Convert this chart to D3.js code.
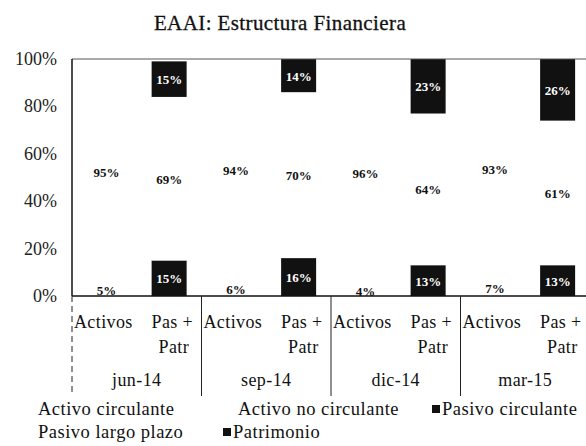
<!DOCTYPE html>
<html><head><meta charset="utf-8">
<script src="https://cdn.jsdelivr.net/npm/d3@7"></script>
<style>
body{margin:0;background:#fff;}
svg{display:block;}
text{font-family:"Liberation Serif","DejaVu Serif",serif;}
</style></head>
<body><svg id="c" width="586" height="446"></svg>
<script>
const periods = ["jun-14","sep-14","dic-14","mar-15"];
const subCats = ["Activos","Pas + Patr"];
const activoCirculante   = [5, 6, 4, 7];
const activoNoCirculante = [95, 94, 96, 93];
const pasivoCirculante   = [15, 16, 13, 13];
const pasivoLargoPlazo   = [69, 70, 64, 61];
const patrimonio         = [15, 14, 23, 26];
const yTicks = [0, 20, 40, 60, 80, 100];

const svg = d3.select("#c");
const L = 72, R = 590, T = 59, B = 296;
const x0 = d3.scaleBand().domain(periods).range([L, R]).padding(0);
const x1 = d3.scaleBand().domain(subCats).range([0, x0.bandwidth()]).paddingInner(0.45).paddingOuter(0.225);
const y = d3.scaleLinear().domain([0, 100]).range([B, T]);

svg.append("text").attr("x", 280).attr("y", 30).attr("text-anchor","middle")
  .attr("font-size", 21).attr("letter-spacing", 0.4).attr("fill","#111").attr("stroke","#111").attr("stroke-width",0.3)
  .text("EAAI: Estructura Financiera");

const series = [];
periods.forEach((p,i)=>{
  series.push({p, sub:"Activos", y0:0, y1:activoCirculante[i], v:activoCirculante[i], dark:false});
  series.push({p, sub:"Activos", y0:activoCirculante[i], y1:activoCirculante[i]+activoNoCirculante[i], v:activoNoCirculante[i], dark:false});
  const a = pasivoCirculante[i], b = a + pasivoLargoPlazo[i];
  series.push({p, sub:"Pas + Patr", y0:0, y1:a, v:pasivoCirculante[i], dark:true});
  series.push({p, sub:"Pas + Patr", y0:a, y1:b, v:pasivoLargoPlazo[i], dark:false});
  series.push({p, sub:"Pas + Patr", y0:b, y1:Math.min(100, b+patrimonio[i]), v:patrimonio[i], dark:true});
});
const bw = 35;
svg.append("g").selectAll("rect").data(series).join("rect")
  .attr("x", d => x0(d.p) + x1(d.sub) + x1.bandwidth()/2 - bw/2)
  .attr("width", bw)
  .attr("y", d => y(d.y1)).attr("height", d => y(d.y0) - y(d.y1))
  .attr("fill", d => d.dark ? "#111" : "#fff");

svg.append("line").attr("x1", L).attr("x2", R).attr("y1", T).attr("y2", T).attr("stroke","#555").attr("stroke-width",1);
svg.append("line").attr("x1", L).attr("x2", L).attr("y1", T).attr("y2", B).attr("stroke","#111").attr("stroke-width",1.5);
svg.append("line").attr("x1", L).attr("x2", R).attr("y1", B).attr("y2", B).attr("stroke","#111").attr("stroke-width",1.5);

svg.append("g").selectAll("text").data(yTicks).join("text")
  .attr("x", 57).attr("y", d => y(d) + 6).attr("text-anchor","end")
  .attr("font-size", 18).attr("fill","#222").text(d => d + "%");

svg.append("g").selectAll("text").data(series).join("text")
  .attr("x", d => x0(d.p) + x1(d.sub) + x1.bandwidth()/2 + (d.sub === "Activos" ? 2 : 0))
  .attr("y", d => y((d.y0 + d.y1)/2) + 5)
  .attr("text-anchor","middle").attr("font-size", 13).attr("font-weight","bold")
  .attr("fill", d => d.dark ? "#fff" : "#111").text(d => d.v + "%");

const xl = svg.append("g").attr("font-size", 18).attr("fill","#111").attr("letter-spacing", 0.4);
periods.forEach(p => {
  xl.append("text").attr("x", x0(p) + x1("Activos") + x1.bandwidth()/2 - 1).attr("y", 328)
    .attr("text-anchor","middle").text("Activos");
  const cx = x0(p) + x1("Pas + Patr") + x1.bandwidth()/2;
  xl.append("text").attr("x", cx + 24).attr("y", 328).attr("text-anchor","end").text("Pas +");
  xl.append("text").attr("x", cx + 20).attr("y", 353).attr("text-anchor","end").text("Patr");
  xl.append("text").attr("x", x0(p) + x0.bandwidth()/2).attr("y", 386).attr("text-anchor","middle").text(p);
});
const seps = periods.map(p => x0(p));
svg.append("g").selectAll("line").data(seps).join("line")
  .attr("x1", d => d).attr("x2", d => d).attr("y1", B).attr("y2", 396)
  .attr("stroke","#222").attr("stroke-width",1)
  .attr("stroke-dasharray", (d,i) => i === 0 ? "6,4" : null);

const legend = [
  {name:"Activo circulante", dark:false, x:38, y:415},
  {name:"Activo no circulante", dark:false, x:238, y:415},
  {name:"Pasivo circulante", dark:true, x:432, y:415},
  {name:"Pasivo largo plazo", dark:false, x:38, y:438},
  {name:"Patrimonio", dark:true, x:223, y:438}
];
const lg = svg.append("g").selectAll("g").data(legend).join("g");
lg.filter(d => d.dark).append("rect").attr("x", d => d.x).attr("y", d => d.y - 10).attr("width", 8).attr("height", 8).attr("fill","#111");
lg.append("text").attr("x", d => d.dark ? d.x + 10 : d.x).attr("y", d => d.y)
  .attr("font-size", 18.5).attr("letter-spacing", 0.5).attr("fill","#111").text(d => d.name);
</script></body></html>
